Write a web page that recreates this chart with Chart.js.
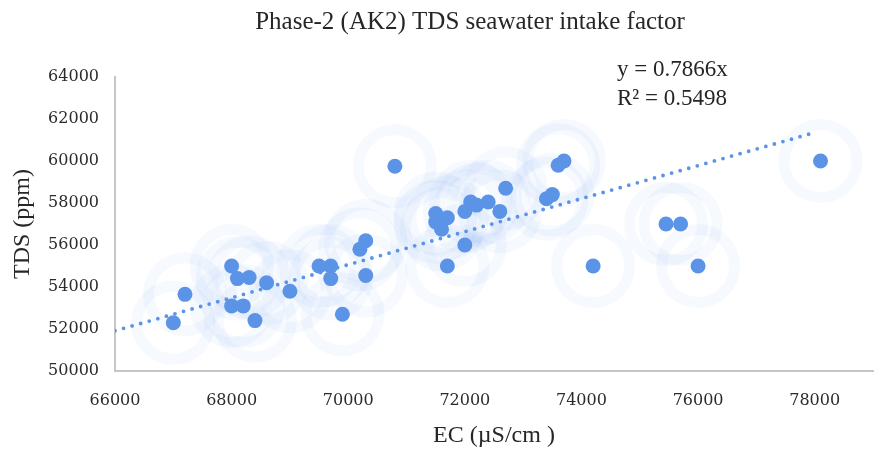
<!DOCTYPE html>
<html>
<head>
<meta charset="utf-8">
<script src="https://cdn.jsdelivr.net/npm/chart.js@4"></script>
<style>
  html, body { margin: 0; padding: 0; background: #fff; }
  #wrap { width: 874px; height: 454px; }
</style>
</head>
<body>
<div id="wrap"><canvas id="tdsChart" width="874" height="454"></canvas></div>
<script>
// EC (µS/cm) and TDS (ppm) readings
const ecValues = [67000, 67200, 68000, 68100, 68300, 68000, 68200, 68400, 68600, 69000,
                  69500, 69700, 69700, 69900, 70200, 70300, 70300, 70800, 71500, 71500,
                  71700, 71600, 72000, 71700, 72000, 72100, 72200, 72400, 72600, 72700,
                  73400, 73500, 73600, 73700, 74200, 75450, 75700, 76000, 78100];
const tdsValues = [52300, 53650, 55000, 54400, 54450, 53100, 53100, 52400, 54200, 53800,
                   55000, 55000, 54400, 52700, 55800, 56200, 54550, 59750, 57500, 57100,
                   57300, 56750, 56000, 55000, 57600, 58050, 57900, 58050, 57600, 58700,
                   58200, 58400, 59800, 60000, 55000, 57000, 57000, 55000, 60000];

// trendline through origin, as reported on the chart
const trendSlope = 0.7866;
const trendR2 = 0.5498;
const trendFrom = 66000;
const trendTo = 78000;

const xTicks = [66000, 68000, 70000, 72000, 74000, 76000, 78000];
const yTicks = [50000, 52000, 54000, 56000, 58000, 60000, 62000, 64000];

const pointColor = '#5B94E6';
const serif = '"Liberation Serif", "Times New Roman", serif';

const points = ecValues.map((ec, i) => ({ x: ec, y: tdsValues[i] }));
const trendPoints = [trendFrom, trendTo].map(x => ({ x: x, y: trendSlope * x }));

// title and trendline label, placed like the original
const textPlugin = {
    id: 'texts',
    afterDraw(chart) {
        const c = chart.ctx;
        c.save();
        c.fillStyle = '#262626';
        c.textBaseline = 'alphabetic';
        c.font = '25px ' + serif;
        c.textAlign = 'center';
        c.fillText('Phase-2 (AK2) TDS seawater intake factor', 470, 29);
        c.font = '23px ' + serif;
        c.textAlign = 'left';
        c.fillText('y = ' + trendSlope + 'x', 617, 76);
        c.fillText('R² = ' + trendR2, 617, 105);
        c.restore();
    }
};

const ctx = document.getElementById('tdsChart').getContext('2d');
new Chart(ctx, {
    type: 'scatter',
    data: {
        datasets: [
            {
                // faint halo rings round each marker
                data: points,
                pointRadius: 36.5,
                pointBorderWidth: 11,
                pointBorderColor: 'rgba(91,148,230,0.055)',
                pointBackgroundColor: 'rgba(0,0,0,0)',
                pointHoverRadius: 36.5,
                clip: false,
                order: 3
            },
            {
                type: 'line',
                data: trendPoints,
                borderColor: pointColor,
                borderWidth: 3.8,
                borderDash: [0, 8.9],
                borderCapStyle: 'round',
                pointRadius: 0,
                fill: false,
                order: 2
            },
            {
                data: points,
                pointRadius: 7.5,
                pointBorderWidth: 0,
                pointBackgroundColor: pointColor,
                pointHoverRadius: 7.5,
                order: 1
            }
        ]
    },
    options: {
        responsive: false,
        animation: false,
        events: [],
        layout: { autoPadding: false, padding: { top: 77, right: 1, left: 0, bottom: 0 } },
        plugins: {
            legend: { display: false },
            tooltip: { enabled: false }
        },
        scales: {
            x: {
                type: 'linear',
                min: 66000,
                max: 79000,
                afterFit: s => { s.height = 83; s.paddingLeft = 0; s.paddingRight = 0; },
                afterBuildTicks: s => { s.ticks = xTicks.map(v => ({ value: v })); },
                grid: { display: false, drawTicks: false, tickLength: 0 },
                border: { display: true, color: '#C6C6C6', width: 2 },
                ticks: {
                    padding: 20,
                    color: '#2b2b2b',
                    font: { family: '"DejaVu Serif", serif', size: 16 },
                    maxRotation: 0,
                    callback: v => String(v)
                },
                title: {
                    display: true,
                    text: 'EC (µS/cm )',
                    color: '#262626',
                    font: { family: serif, size: 24 },
                    padding: { top: 4, bottom: 4 }
                }
            },
            y: {
                type: 'linear',
                min: 50000,
                max: 64000,
                afterFit: s => { s.width = 115; s.paddingTop = 0; s.paddingBottom = 0; },
                afterBuildTicks: s => { s.ticks = yTicks.map(v => ({ value: v })); },
                grid: { display: false, drawTicks: false, tickLength: 0 },
                border: { display: true, color: '#C6C6C6', width: 2 },
                ticks: {
                    padding: 16,
                    color: '#2b2b2b',
                    font: { family: '"DejaVu Serif", serif', size: 16 },
                    callback: v => String(v)
                },
                title: {
                    display: true,
                    text: 'TDS (ppm)',
                    color: '#262626',
                    font: { family: serif, size: 24 },
                    padding: { top: 8, bottom: 4 }
                }
            }
        }
    },
    plugins: [textPlugin]
});
</script>
</body>
</html>
